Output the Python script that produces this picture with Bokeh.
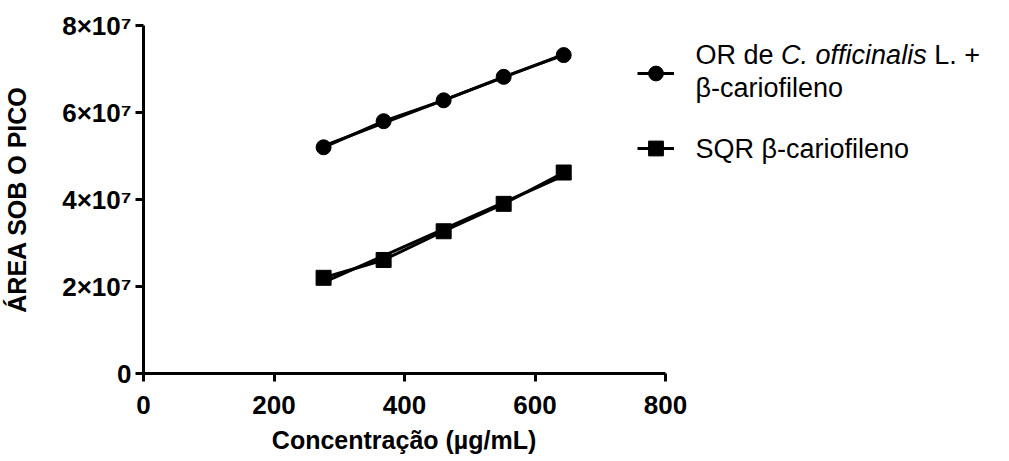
import numpy as np
from bokeh.plotting import figure
from bokeh.models import Range1d, Legend, LegendItem, Label, FixedTicker, Title
from bokeh.embed import file_html
from bokeh.resources import INLINE

# ---- data ----
conc = [276, 368, 460, 552, 644]
or_area = [5.20e7, 5.80e7, 6.28e7, 6.82e7, 7.32e7]
sqr_area = [2.20e7, 2.61e7, 3.27e7, 3.90e7, 4.62e7]
x_ticks = [0, 200, 400, 600, 800]
y_ticks = [0, 2e7, 4e7, 6e7, 8e7]
y_tick_labels = ["0", "2×10⁷", "4×10⁷", "6×10⁷", "8×10⁷"]
x_max = 800
y_max = 8e7

FONT = "Liberation Sans"
W, H = 1009, 461
LEFT, RIGHT_AXIS_END, TOP, BOTTOM = 143, 665, 25, 373
# frame extends to the right edge so the legend (partly right of the axis) is not clipped;
# the x scale is kept so that 0..800 spans LEFT..RIGHT_AXIS_END
x_end = x_max * (W - LEFT) / (RIGHT_AXIS_END - LEFT)

p = figure(width=W, height=H, output_backend="svg", toolbar_location=None,
           x_range=Range1d(0, x_end), y_range=Range1d(0, y_max),
           min_border_left=LEFT, min_border_right=0, min_border_top=TOP,
           min_border_bottom=H - BOTTOM)
p.grid.visible = False
p.outline_line_color = None
p.background_fill_color = "white"
p.border_fill_color = "white"

for ax in (p.xaxis[0], p.yaxis[0]):
    ax.axis_line_width = 3
    ax.axis_line_color = "black"
    ax.major_tick_line_width = 3
    ax.major_tick_line_color = "black"
    ax.major_tick_out = 8
    ax.major_tick_in = 0
    ax.minor_tick_line_color = None
    ax.major_label_text_font = FONT
    ax.major_label_text_font_style = "bold"
    ax.major_label_text_font_size = "26px"
    ax.major_label_text_color = "black"
    ax.axis_label_text_font = FONT
    ax.axis_label_text_font_style = "bold"
    ax.axis_label_text_font_size = "25px"
    ax.axis_label_text_color = "black"

p.xaxis.bounds = (0, x_max)
p.xaxis.ticker = FixedTicker(ticks=x_ticks)
p.yaxis.ticker = FixedTicker(ticks=y_ticks)
p.yaxis.major_label_overrides = {t: l for t, l in zip(y_ticks, y_tick_labels)}
p.yaxis.axis_label = "ÁREA SOB O PICO"
p.xaxis.major_label_standoff = 14
p.yaxis.major_label_standoff = 4
p.yaxis.axis_label_standoff = 28

# x-axis title centred under the 0..800 axis (the frame is wider than the axis)
XT = "Concentração (µg/mL)"
xt_size = 25
xt_width = 10.612 * xt_size   # Arial/Liberation Sans Bold advance widths
xt = Title(text=XT, align="left", offset=(RIGHT_AXIS_END - LEFT) / 2 - xt_width / 2,
           text_font=FONT, text_font_style="bold", text_font_size=f"{xt_size}px",
           text_color="black", standoff=14)
p.add_layout(xt, "below")

xs = np.array(conc, dtype=float)
xfit = np.array([conc[0], conc[-1]], dtype=float)
series = []
for ys, marker in ((or_area, "circle"), (sqr_area, "square")):
    m, b = np.polyfit(xs, np.array(ys), 1)
    p.line(xfit, m * xfit + b, line_color="black", line_width=3)
    lr = p.line(conc, ys, line_color="black", line_width=3)
    sr = p.scatter(conc, ys, marker=marker, size=15, fill_color="black", line_color="black")
    series.append((lr, sr))

legend = Legend(items=[LegendItem(label=" ", renderers=list(series[0])),
                       LegendItem(label=" ", renderers=list(series[1]))],
                location=(494, 206), glyph_width=37, glyph_height=38, spacing=37,
                padding=0, margin=0, label_text_font_size="1px", label_height=0,
                label_width=0, label_standoff=0, border_line_color=None,
                background_fill_alpha=0)
p.add_layout(legend)

LF = 27
def lab(x, y, text, style="normal"):
    p.add_layout(Label(x=x, y=y, x_units="screen", y_units="screen", text=text,
                       text_font=FONT, text_font_size=f"{LF}px", text_font_style=style,
                       text_color="black", text_baseline="middle", text_align="left"))

tx = 695 - LEFT
w_or = 3.17 * LF      # width of "OR de " in Arial/Liberation em units
w_it = 5.39 * LF      # width of "C. officinalis"
w_sp = 0.278 * LF     # a space
lab(tx, BOTTOM - 54.5, "OR de")
lab(tx + w_or, BOTTOM - 54.5, "C. officinalis", "italic")
lab(tx + w_or + w_it + w_sp, BOTTOM - 54.5, "L. +")
lab(tx, BOTTOM - 87, "β-cariofileno")
lab(tx, BOTTOM - 148, "SQR β-cariofileno")

open("out.html", "w").write(file_html(p, INLINE))
